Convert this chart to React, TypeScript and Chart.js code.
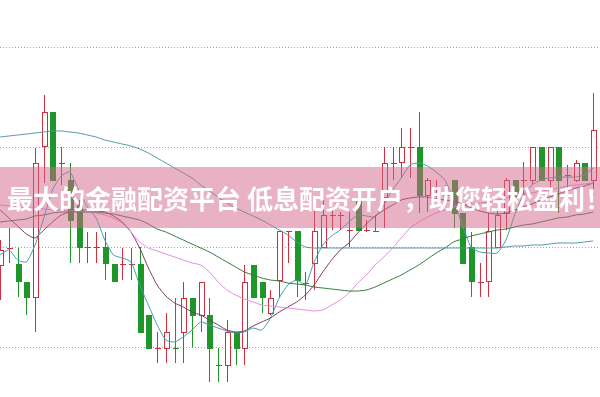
import React, { useEffect, useRef } from "react";
import { Chart, registerables } from "chart.js";

Chart.register(...registerables);

// Day index of each candle (69 sessions)
const dayLabels = [
  "D1","D2","D3","D4","D5","D6","D7","D8","D9","D10",
  "D11","D12","D13","D14","D15","D16","D17","D18","D19","D20",
  "D21","D22","D23","D24","D25","D26","D27","D28","D29","D30",
  "D31","D32","D33","D34","D35","D36","D37","D38","D39","D40",
  "D41","D42","D43","D44","D45","D46","D47","D48","D49","D50",
  "D51","D52","D53","D54","D55","D56","D57","D58","D59","D60",
  "D61","D62","D63","D64","D65","D66","D67","D68","D69",
];

const openValues = [
  282, 299, 283, 265, 250, 401, 435, 384, 367, 342,
  300, 300, 300, 283, 283, 283, 283, 232, 199, 199,
  199, 215, 249, 232, 232, 182, 182, 215, 199, 282,
  265, 234, 267, 316, 316, 264, 284, 300, 332, 332,
  317, 349, 317, 316, 350, 384, 385, 400, 400, 352,
  359, 352, 367, 334, 300, 265, 266, 300, 334, 367,
  367, 367, 400, 367, 400, 372, 367, 384, 367,
];
const highValues = [
  307, 319, 299, 265, 399, 452, 435, 400, 384, 347,
  315, 315, 315, 283, 299, 299, 300, 232, 215, 234,
  249, 265, 249, 265, 249, 199, 227, 215, 282, 282,
  265, 257, 316, 316, 316, 275, 342, 347, 339, 335,
  335, 349, 327, 332, 400, 400, 419, 419, 435, 369,
  367, 362, 367, 334, 315, 284, 334, 342, 369, 367,
  385, 400, 400, 400, 400, 382, 387, 384, 454,
];
const lowValues = [
  247, 284, 250, 232, 215, 364, 367, 362, 284, 284,
  284, 284, 267, 266, 267, 267, 215, 199, 184, 184,
  184, 184, 200, 215, 165, 165, 165, 182, 182, 250,
  234, 232, 250, 284, 250, 247, 257, 300, 317, 317,
  300, 317, 315, 316, 319, 367, 369, 369, 334, 335,
  350, 342, 319, 284, 250, 250, 250, 300, 317, 347,
  347, 362, 367, 357, 334, 355, 365, 367, 351,
];
const closeValues = [
  297, 299, 266, 250, 384, 435, 367, 384, 327, 300,
  300, 300, 284, 266, 283, 283, 215, 199, 199, 215,
  198, 249, 232, 265, 199, 181, 215, 199, 265, 250,
  250, 249, 316, 316, 267, 264, 316, 332, 332, 332,
  317, 317, 317, 316, 384, 384, 400, 400, 352, 367,
  359, 352, 334, 284, 266, 265, 316, 332, 367, 350,
  367, 400, 367, 400, 367, 372, 384, 367, 417,
];

// Moving averages
const ma5Values = [
  292, 297, 287, 285, 302, 329, 357, 371, 375, 357,
  340, 329, 307, 292, 289, 285, 262, 242, 222, 207,
  205, 210, 217, 225, 222, 219, 216, 214, 215, 219,
  217, 229, 249, 262, 267, 262, 285, 302, 311, 317,
  325, 332, 331, 330, 342, 357, 369, 382, 384, 381,
  375, 367, 347, 322, 300, 295, 294, 294, 307, 332,
  352, 362, 367, 369, 370, 370, 370, 372, 379,
];
const ma10Values = [
  337, 329, 321, 313, 309, 317, 325, 332, 335, 337,
  337, 336, 335, 331, 325, 315, 299, 279, 262, 251,
  244, 240, 235, 232, 227, 222, 217, 215, 216, 221,
  225, 229, 235, 240, 245, 252, 262, 275, 287, 297,
  304, 314, 323, 331, 337, 342, 347, 349, 350, 350,
  348, 347, 346, 343, 339, 336, 334, 333, 334, 337,
  340, 343, 347, 350, 353, 356, 359, 361, 364,
];
const ma20Values = [
  342, 341, 340, 339, 339, 338, 337, 337, 336, 336,
  335, 334, 332, 329, 324, 315, 305, 299, 296, 293,
  290, 287, 284, 282, 275, 265, 257, 252, 248, 245,
  242, 241, 240, 239, 238, 237, 236, 237, 242, 247,
  254, 264, 272, 282, 290, 299, 309, 319, 325, 330,
  334, 337, 340, 342, 343, 344, 345, 347, 349, 351,
  352, 354, 356, 357, 359, 361, 362, 363, 364,
];
const ma30Values = [
  325, 326, 327, 328, 331, 332, 334, 335, 335, 335,
  335, 335, 334, 333, 331, 329, 327, 323, 318, 315,
  311, 307, 303, 299, 295, 290, 285, 280, 275, 272,
  269, 267, 266, 264, 263, 262, 260, 259, 258, 257,
  256, 256, 257, 260, 264, 268, 272, 277, 282, 288,
  294, 299, 305, 308, 311, 313, 315, 317, 318, 320,
  322, 323, 325, 327, 329, 330, 332, 333, 335,
];
const ma60Values = [
  410, 411, 412, 413, 414, 415, 416, 416, 415, 414,
  412, 410, 407, 405, 403, 401, 398, 394, 389, 384,
  379, 374, 369, 362, 356, 350, 344, 339, 335, 331,
  327, 322, 317, 312, 305, 300, 299, 299, 299, 299,
  299, 299, 299, 299, 299, 299, 299, 299, 299, 299,
  299, 299, 299, 299, 299, 299, 299, 299, 300, 301,
  301, 302, 302, 303, 304, 304, 304, 305, 306,
];

const gridLevels = [500, 400, 300, 200];
const bannerText = "最大的金融配资平台 低息配资开户，助您轻松盈利！";

const RED = "#cf2f3f";
const GREEN = "#1f962a";

export default function App() {
  const ref = useRef<HTMLCanvasElement>(null);

  useEffect(() => {
    const canvas = ref.current;
    if (!canvas) return;

    const candlePlugin = {
      id: "candles",
      beforeDatasetsDraw(chart: any) {
        const { ctx, chartArea } = chart;
        const xs = chart.scales.x;
        const ys = chart.scales.y;
        ctx.save();
        // dotted grid
        ctx.strokeStyle = "#a3a3a3";
        ctx.lineWidth = 1;
        ctx.setLineDash([1, 2]);
        gridLevels.forEach((v) => {
          const py = Math.round(ys.getPixelForValue(v)) + 0.5;
          ctx.beginPath();
          ctx.moveTo(chartArea.left, py);
          ctx.lineTo(chartArea.right, py);
          ctx.stroke();
        });
        ctx.setLineDash([]);

        dayLabels.forEach((_, i) => {
          const px = Math.round(xs.getPixelForValue(i));
          const yo = ys.getPixelForValue(openValues[i]);
          const yc = ys.getPixelForValue(closeValues[i]);
          const hi = Math.round(ys.getPixelForValue(highValues[i]));
          const lo = Math.round(ys.getPixelForValue(lowValues[i]));
          const top = Math.round(Math.min(yo, yc));
          const bot = Math.round(Math.max(yo, yc));
          const up = closeValues[i] >= openValues[i];
          const color = up ? RED : GREEN;
          ctx.fillStyle = color;
          ctx.strokeStyle = color;
          if (up) {
            if (top > hi) ctx.fillRect(px, hi, 1, top - hi);
            if (lo > bot) ctx.fillRect(px, bot, 1, lo - bot);
          } else {
            ctx.fillRect(px, hi, 1, Math.max(1, lo - hi));
          }
          if (bot - top <= 1) {
            ctx.fillRect(px - 2, top, 6, 1);
          } else if (up) {
            ctx.fillStyle = "#ffffff";
            ctx.fillRect(px - 2, top, 6, bot - top);
            ctx.strokeRect(px - 1.5, top + 0.5, 5, bot - top);
          } else {
            ctx.fillRect(px - 2, top, 6, bot - top + 1);
          }
        });
        ctx.restore();
      },
    };

    const toPoints = (arr: number[]) => arr.map((v, i) => ({ x: i, y: v }));
    const lineDs = (label: string, arr: number[], color: string) => ({
      type: "line" as const,
      label,
      data: toPoints(arr),
      borderColor: color,
      backgroundColor: color,
      borderWidth: 1,
      pointRadius: 0,
      tension: 0.2,
      fill: false,
    });

    const chart = new Chart(canvas, {
      type: "line",
      data: {
        datasets: [
          lineDs("MA60", ma60Values, "#4d98a2"),
          lineDs("MA30", ma30Values, "#2e7a38"),
          lineDs("MA20", ma20Values, "#e48be4"),
          lineDs("MA10", ma10Values, "#7c3a5c"),
          lineDs("MA5", ma5Values, "#3aa2a6"),
        ],
      },
      options: {
        responsive: false,
        animation: false,
        layout: { padding: 0 },
        plugins: {
          legend: { display: false },
          tooltip: { enabled: false },
        },
        scales: {
          x: { type: "linear", display: false, min: -0.02, max: 68.79 },
          y: { type: "linear", display: false, min: 150, max: 547 },
        },
      },
      plugins: [candlePlugin],
    });
    return () => chart.destroy();
  }, []);

  return (
    <div
      style={{
        position: "fixed",
        left: 0,
        top: 0,
        width: 600,
        height: 397,
        background: "#ffffff",
        overflow: "hidden",
      }}
    >
      <canvas ref={ref} width={600} height={397} style={{ display: "block" }} />
      <div
        style={{
          position: "absolute",
          left: 0,
          top: 167,
          width: 600,
          height: 61,
          background: "rgba(209,101,137,0.5)",
          color: "#ffffff",
          fontFamily: '"Noto Sans CJK SC", sans-serif',
          fontWeight: 700,
          fontSize: 26,
          lineHeight: "61px",
          whiteSpace: "pre",
          wordSpacing: 0,
          paddingLeft: 7,
          boxSizing: "border-box",
        }}
      >
        {bannerText}
      </div>
    </div>
  );
}
